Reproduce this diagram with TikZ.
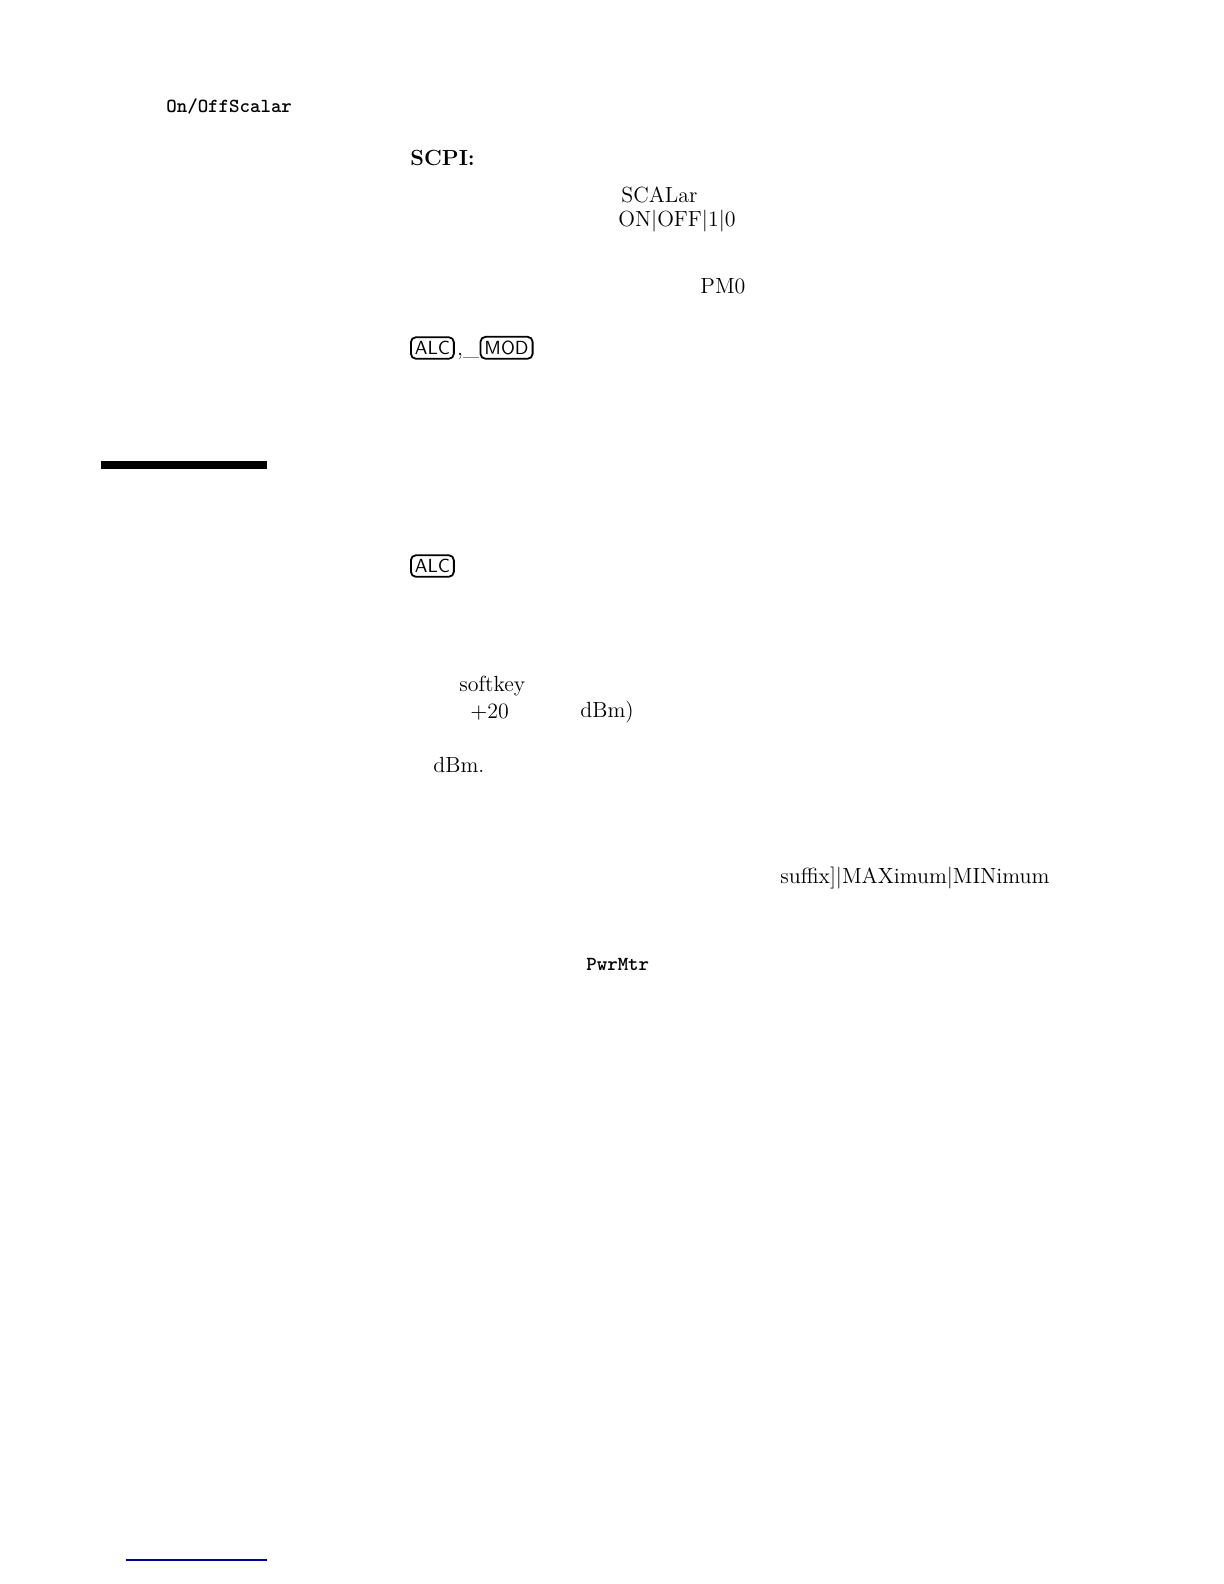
\documentclass[tikz,border=0pt]{standalone}
\usepackage{tikz}
\usetikzlibrary{positioning}
\begin{document}
\begin{tikzpicture}
    [ x=.5bp, y=-.5bp, font=\fontsize{11}{13}\selectfont,
      txt/.style={anchor=west, inner sep=0pt},
      mono/.style={txt, font=\fontsize{10}{12}\selectfont\ttfamily\bfseries},
      keybox/.style={draw, line width=.9pt, rounded corners=2.5pt, inner sep=2pt,
                     font=\fontsize{9.5}{11}\selectfont\sffamily, anchor=west},
    ]
    \node[mono] (onoff) at (166,106) {On/OffScalar};
    \node[txt, font=\fontsize{11}{13}\selectfont\bfseries] (scpi) at (410,158) {SCPI:};
    \node[txt] (scalar) at (621,195) {SCALar};
    \node[txt] (onoffarg) at (618,221) {ON$|$OFF$|$1$|$0};
    \node[txt] (pmzero) at (700,286) {PM0};

    \node[keybox] (alc) at (410,348) {ALC};
    \node[txt, right=1pt of alc.south east, anchor=south west] (comma) {,\_};
    \node[keybox, right=0pt of comma.south east, anchor=south west] (mod) {MOD};

    \fill (101,461) rectangle (267,469);

    \node[keybox] (alctwo) at (410,566) {ALC};

    \node[txt] (softkey) at (459,686) {softkey};
    \node[txt] (plustwenty) at (470,712) {$+$20};
    \node[txt] (dbmclose) at (580,712) {dBm)};
    \node[txt] (dbm) at (433,765) {dBm.};
    \node[txt] (suffix) at (780,878) {suffix]$|$MAXimum$|$MINimum};
    \node[mono] (pwrmtr) at (586,964) {PwrMtr};

    \draw[blue!60!black, line width=.6pt] (126,1560) -- (267,1560);

    \pgfresetboundingbox
    \path[use as bounding box] (0,0) rectangle (1224,1584);
\end{tikzpicture}
\end{document}
